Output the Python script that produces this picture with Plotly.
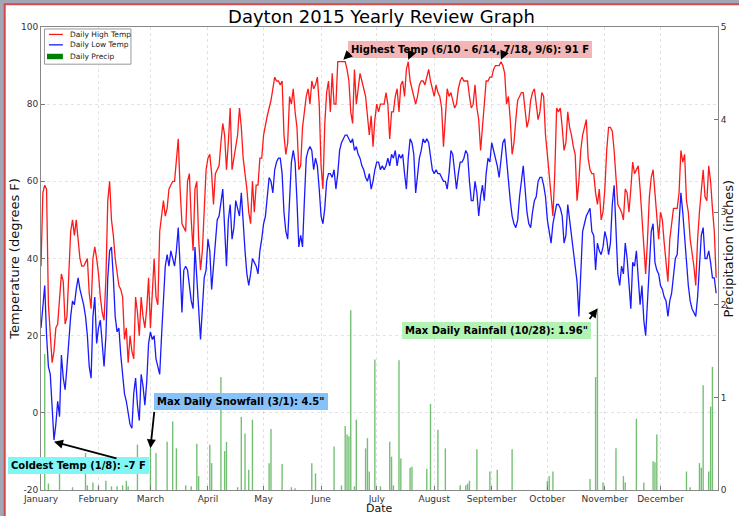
import plotly.graph_objects as go
import pandas as pd

TITLE = "Dayton 2015 Yearly Review Graph"
MONTHS = ["January", "February", "March", "April", "May", "June", "July",
          "August", "September", "October", "November", "December"]
MONTH_STARTS = ["2015-01-01", "2015-02-01", "2015-03-01", "2015-04-01", "2015-05-01",
                "2015-06-01", "2015-07-01", "2015-08-01", "2015-09-01", "2015-10-01",
                "2015-11-01", "2015-12-01"]
TEMP_TICKS = [-20, 0, 20, 40, 60, 80, 100]
PRECIP_TICKS = [0, 1, 2, 3, 4, 5]
SERIES_NAMES = ["Daily High Temp", "Daily Low Temp", "Daily Precip"]

HIGH_TEMP = [
    # Jan
    38, 57, 59, 58, 28, 19, 13, 16, 22, 23, 30, 36, 34, 23, 25, 38, 47, 50, 46, 50, 44, 40, 38, 38, 39, 40, 31, 27, 40, 43, 40,
    # Feb
    36, 30, 26, 24, 35, 55, 60, 50, 46, 40, 37, 33, 32, 30, 19, 22, 13, 20, 16, 14, 30, 26, 20, 30, 25, 22, 27, 35,
    # Mar
    22, 32, 40, 30, 28, 47, 52, 55, 51, 53, 58, 59, 60, 60, 66, 71, 58, 49, 48, 47, 60, 62, 50, 42, 58, 60, 45, 37, 42, 55, 63,
    # Apr
    66, 67, 62, 54, 62, 63, 64, 70, 75, 72, 63, 70, 79, 63, 66, 70, 72, 79, 74, 66, 62, 58, 52, 49, 60, 52, 59, 59, 66, 66,
    # May
    72, 75, 77, 79, 81, 84, 87, 86, 86, 85, 86, 72, 67, 70, 82, 80, 84, 78, 74, 63, 64, 74, 79, 82, 84, 80, 86, 84, 85, 87, 80,
    # Jun
    64, 58, 75, 83, 86, 78, 88, 80, 80, 91, 91, 91, 91, 91, 89, 86, 78, 75, 89, 80, 84, 88, 86, 84, 82, 77, 72, 77, 69, 76,
    # Jul
    80, 78, 80, 80, 80, 83, 80, 71, 78, 78, 82, 84, 78, 85, 86, 82, 89, 91, 86, 84, 82, 80, 82, 85, 86, 86, 85, 87, 89, 86, 84,
    # Aug
    82, 85, 83, 82, 79, 69, 77, 84, 82, 83, 81, 79, 80, 84, 86, 87, 86, 86, 86, 82, 79, 80, 85, 79, 76, 68, 74, 79, 86, 86, 87,
    # Sep
    87, 89, 90, 90, 90, 91, 90, 88, 80, 82, 76, 67, 70, 76, 81, 82, 83, 83, 78, 74, 76, 81, 83, 84, 80, 76, 78, 83, 82, 72,
    # Oct
    67, 62, 57, 51, 62, 79, 78, 79, 74, 68, 70, 78, 74, 72, 69, 67, 55, 60, 68, 72, 74, 76, 66, 63, 62, 62, 57, 54, 58, 50, 52,
    # Nov
    58, 68, 74, 74, 73, 68, 60, 54, 53, 52, 50, 58, 57, 52, 58, 65, 62, 63, 64, 58, 50, 44, 36, 45, 56, 61, 63, 57, 50, 45,
    # Dec
    52, 50, 44, 38, 34, 45, 50, 53, 53, 53, 57, 68, 65, 67, 55, 52, 45, 42, 38, 33, 45, 52, 58, 63, 56, 55, 64, 60, 53, 47, 35,
]

LOW_TEMP = [
    # Jan
    22, 28, 33, 20, 12, 10, 1, -7, -3, 3, -1, 15, 9, 6, 12, 20, 25, 29, 28, 32, 35, 32, 30, 28, 25, 20, 12, 9, 25, 30, 18,
    # Feb
    22, 24, 18, 12, 20, 35, 42, 43, 35, 25, 21, 22, 15, 10, 5, 3, 0, -3, -4, 5, 9, 2, -2, 10, 7, 2, 8, 18,
    # Mar
    21, 19, 20, 14, 12, 10, 20, 28, 38, 41, 38, 42, 40, 38, 42, 48, 38, 26, 37, 38, 37, 32, 29, 27, 43, 35, 27, 19, 27, 35, 37,
    # Apr
    45, 42, 32, 38, 45, 50, 51, 55, 58, 48, 38, 50, 54, 45, 48, 55, 53, 51, 57, 48, 42, 36, 33, 36, 40, 39, 38, 36, 42, 45,
    # May
    49, 51, 57, 61, 60, 57, 63, 65, 66, 66, 62, 52, 47, 45, 55, 65, 68, 65, 55, 43, 46, 43, 55, 66, 68, 69, 68, 63, 66, 64, 58,
    # Jun
    51, 49, 53, 60, 62, 62, 61, 63, 58, 62, 68, 70, 71, 72, 72, 71, 70, 71, 68, 69, 67, 66, 64, 63, 61, 60, 62, 58, 60, 63,
    # Jul
    65, 65, 63, 64, 63, 64, 66, 64, 67, 66, 68, 64, 67, 66, 67, 62, 58, 66, 71, 70, 67, 57, 62, 66, 68, 71, 70, 71, 70, 66, 63,
    # Aug
    62, 63, 62, 62, 61, 60, 60, 58, 62, 68, 67, 62, 58, 62, 65, 65, 66, 68, 67, 60, 55, 55, 60, 57, 51, 56, 59, 55, 62, 66, 65,
    # Sep
    70, 68, 66, 64, 61, 66, 70, 71, 65, 61, 55, 51, 49, 48, 50, 56, 60, 64, 58, 52, 49, 48, 52, 55, 56, 60, 61, 61, 59, 56,
    # Oct
    50, 47, 44, 49, 52, 54, 54, 53, 51, 44, 46, 54, 50, 46, 42, 39, 34, 25, 38, 47, 49, 51, 52, 53, 47, 46, 37, 44, 42, 41, 43,
    # Nov
    47, 45, 41, 44, 54, 59, 46, 36, 33, 38, 36, 44, 40, 32, 27, 39, 38, 42, 36, 28, 33, 24, 20, 28, 36, 47, 49, 39, 37, 36,
    # Dec
    33, 32, 30, 29, 25, 29, 31, 36, 40, 41, 48, 57, 52, 45, 40, 33, 29, 27, 26, 25, 30, 38, 46, 48, 40, 40, 42, 39, 35, 35, 31,
]

PRECIP_DATES = [
    "2015-01-03", "2015-01-05", "2015-01-11", "2015-01-18", "2015-01-25", "2015-01-26", "2015-01-29",
    "2015-02-01", "2015-02-05", "2015-02-08", "2015-02-11", "2015-02-14", "2015-02-16", "2015-02-17", "2015-02-22",
    "2015-03-01", "2015-03-04", "2015-03-10", "2015-03-13", "2015-03-15", "2015-03-20", "2015-03-23", "2015-03-26", "2015-03-27",
    "2015-04-02", "2015-04-03", "2015-04-08", "2015-04-10", "2015-04-11", "2015-04-17", "2015-04-19", "2015-04-21", "2015-04-23", "2015-04-25",
    "2015-05-04", "2015-05-05", "2015-05-11", "2015-05-16", "2015-05-18", "2015-05-27", "2015-05-29",
    "2015-06-08", "2015-06-12", "2015-06-14", "2015-06-15", "2015-06-16", "2015-06-17", "2015-06-19", "2015-06-20",
    "2015-06-25", "2015-06-26", "2015-06-27", "2015-06-30",
    "2015-07-03", "2015-07-08", "2015-07-09", "2015-07-10", "2015-07-13", "2015-07-14", "2015-07-19", "2015-07-20", "2015-07-28", "2015-07-30",
    "2015-08-03", "2015-08-07", "2015-08-15", "2015-08-18", "2015-08-19", "2015-08-20", "2015-08-24", "2015-08-31",
    "2015-09-04", "2015-09-12",
    "2015-10-01", "2015-10-02", "2015-10-04", "2015-10-24", "2015-10-27", "2015-10-28", "2015-10-31",
    "2015-11-07", "2015-11-11", "2015-11-12", "2015-11-18", "2015-11-22", "2015-11-27", "2015-11-28", "2015-11-29",
    "2015-12-15", "2015-12-17", "2015-12-22", "2015-12-23", "2015-12-24", "2015-12-27", "2015-12-28", "2015-12-29",
]
PRECIP_INCHES = [
    1.47, 0.07, 0.18, 0.03, 0.40, 0.05, 0.08,
    0.05, 0.10, 0.04, 0.04, 0.05, 0.10, 0.04, 0.49,
    0.45, 0.40, 0.52, 0.74, 0.45, 0.05, 0.04, 0.50, 0.15,
    0.49, 0.29, 1.22, 0.42, 0.52, 0.03, 0.79, 0.61, 0.22, 0.76,
    0.29, 0.66, 0.28, 0.03, 0.02, 0.29, 0.18,
    0.47, 0.05, 0.69, 0.60, 0.58, 1.94, 0.04, 0.76,
    0.45, 0.56, 0.20, 1.41,
    0.04, 0.52, 0.36, 0.05, 1.40, 0.34, 0.24, 0.25, 0.23, 0.93,
    0.65, 0.45, 0.05, 0.05, 0.07, 0.10, 0.44, 0.20,
    0.22, 0.44,
    0.10, 0.15, 0.20, 0.12, 1.22, 1.96, 0.08,
    0.45, 0.15, 0.08, 0.77, 0.08, 0.31, 0.30, 0.60,
    0.20, 0.03, 0.29, 0.24, 1.13, 0.20, 0.90, 1.33,
]

dates = pd.date_range("2015-01-01", "2015-12-31", freq="D")

W, H = 739, 516
L, R, T, B = 41, 17, 27, 22
PW, PH = W - L - R, H - T - B


def px(x, y):
    return (x - L) / PW, (H - B - y) / PH


FONT = "DejaVu Sans"
GRID = "rgba(0,0,0,0.11)"
HIGH_COLOR, LOW_COLOR, PRECIP_COLOR = "#ff1a1a", "#1a1aff", "#007f00"

fig = go.Figure()
fig.add_trace(go.Scatter(x=dates, y=HIGH_TEMP, mode="lines", name=SERIES_NAMES[0],
                         line=dict(color=HIGH_COLOR, width=1.3)))
fig.add_trace(go.Scatter(x=dates, y=LOW_TEMP, mode="lines", name=SERIES_NAMES[1],
                         line=dict(color=LOW_COLOR, width=1.3)))
fig.add_trace(go.Bar(x=PRECIP_DATES, y=PRECIP_INCHES, name=SERIES_NAMES[2],
                     yaxis="y2", width=0.75 * 86400000,
                     marker=dict(color="rgba(0,140,0,0.55)", line=dict(width=0))))

ann = []
# axis titles
x0, y0 = px(14, 260)
ann.append(dict(xref="paper", yref="paper", x=x0, y=0.5, text="Temperature (degrees F)",
                textangle=-90, showarrow=False, xanchor="center", yanchor="middle",
                font=dict(family=FONT, size=13, color="#111")))
x0, y0 = px(381, 513)
ann.append(dict(xref="paper", yref="paper", x=0.5, y=y0, text="Date", showarrow=False,
                xanchor="center", yanchor="middle",
                font=dict(family=FONT, size=11, color="#111")))
x0, y0 = px(732.5, 250)
ann.append(dict(xref="paper", yref="paper", x=x0, y=y0, text="Precipitation (inches)",
                textangle=-90, showarrow=False, xanchor="center", yanchor="middle",
                font=dict(family=FONT, size=13, color="#111")))


def label(text, cx, cy, color):
    x, y = px(cx, cy)
    return dict(xref="paper", yref="paper", x=x, y=y, text="<b>" + text + "</b>", showarrow=False,
                bgcolor=color, bordercolor=color, borderwidth=1, borderpad=2,
                xanchor="center", yanchor="middle",
                font=dict(family=FONT, size=10, color="black"))


def arrow(x, y, yref, ax, ay):
    return dict(x=x, y=y, xref="x", yref=yref, ax=ax, ay=ay, text="", showarrow=True,
                arrowhead=2, arrowsize=1, arrowwidth=1.8, arrowcolor="black")


ann.append(label("Coldest Temp (1/8): -7 F", 79, 469, "#7ff7f7"))
ann.append(arrow("2015-01-08", -7.5, "y", 64, 17))
ann.append(label('Max Daily Snowfall (3/1): 4.5"', 242, 404.5, "#86c1f7"))
ann.append(arrow("2015-03-01", 0.45, "y2", 4, -38))
ann.append(label("Highest Temp (6/10 - 6/14, 7/18, 9/6): 91 F", 472.5, 49.5, "#f3b5b5"))
ann.append(arrow("2015-06-13", 91.5, "y", 8, -8))
ann.append(arrow("2015-07-18", 91.5, "y", 3, -7))
ann.append(arrow("2015-09-06", 91.5, "y", 3, -7))
ann.append(label('Max Daily Rainfall (10/28): 1.96"', 499, 333, "#b2f2b2"))
ann.append(arrow("2015-10-28", 1.96, "y2", -9, 12))

# compact legend (matplotlib style)
shapes = []
fx0, fy0 = px(4.5, 530)
fx1, fy1 = px(760, 4)
shapes.append(dict(type="rect", xref="paper", yref="paper", x0=fx0, y0=fy0, x1=fx1, y1=fy1,
                   fillcolor="white", line=dict(color="#d24a4a", width=2), layer="below"))
lx0, ly0 = px(44.5, 64.5)
lx1, ly1 = px(131.5, 29)
shapes.append(dict(type="rect", xref="paper", yref="paper", x0=lx0, y0=ly0, x1=lx1, y1=ly1,
                   fillcolor="white", line=dict(color="#999", width=1), layer="above"))
for name, color, ypix in zip(SERIES_NAMES[:2], [HIGH_COLOR, LOW_COLOR], [34.5, 45]):
    a, b = px(49, ypix)
    c, _ = px(63, ypix)
    shapes.append(dict(type="line", xref="paper", yref="paper", x0=a, y0=b, x1=c, y1=b,
                       line=dict(color=color, width=1.3), layer="above"))
    tx, ty = px(68, ypix)
    ann.append(dict(xref="paper", yref="paper", x=tx, y=ty, text=name, showarrow=False,
                    xanchor="left", yanchor="middle", font=dict(family=FONT, size=7.5, color="#222")))
a, b = px(47, 59.5)
c, d = px(63, 54)
shapes.append(dict(type="rect", xref="paper", yref="paper", x0=a, y0=b, x1=c, y1=d,
                   fillcolor=PRECIP_COLOR, line=dict(width=0), layer="above"))
tx, ty = px(68, 56.5)
ann.append(dict(xref="paper", yref="paper", x=tx, y=ty, text=SERIES_NAMES[2], showarrow=False,
                xanchor="left", yanchor="middle", font=dict(family=FONT, size=7.5, color="#222")))

axis_common = dict(ticks="inside", ticklen=4, tickcolor="#777", showline=True, linecolor="#888",
                   linewidth=1, tickfont=dict(family=FONT, size=9, color="#333"), zeroline=False)

fig.update_layout(
    width=W, height=H,
    margin=dict(l=L, r=R, t=T, b=B),
    paper_bgcolor="#a3a6b7", plot_bgcolor="white",
    barmode="overlay",
    showlegend=False,
    title=dict(text=TITLE, x=(L + PW / 2) / W, xanchor="center", y=1 - 17 / H, yanchor="middle",
               font=dict(family=FONT, size=18, color="black")),
    font=dict(family=FONT),
    xaxis=dict(type="date", range=["2015-01-01", "2016-01-01"], tickvals=MONTH_STARTS, ticktext=MONTHS,
               showgrid=True, gridcolor=GRID, griddash="dot", mirror=True, **axis_common),
    yaxis=dict(range=[-20, 100], tickvals=TEMP_TICKS, ticktext=[str(v) for v in TEMP_TICKS],
               showgrid=True, gridcolor=GRID, griddash="dot", mirror=True, **axis_common),
    yaxis2=dict(range=[0, 5], tickvals=PRECIP_TICKS, ticktext=[str(v) for v in PRECIP_TICKS],
                overlaying="y", side="right", showgrid=False, **axis_common),
    annotations=ann,
    shapes=shapes,
)

fig.write_html("out.html", config={"displayModeBar": False},
               post_script="document.body.style.margin='0';document.body.style.overflow='hidden';")
